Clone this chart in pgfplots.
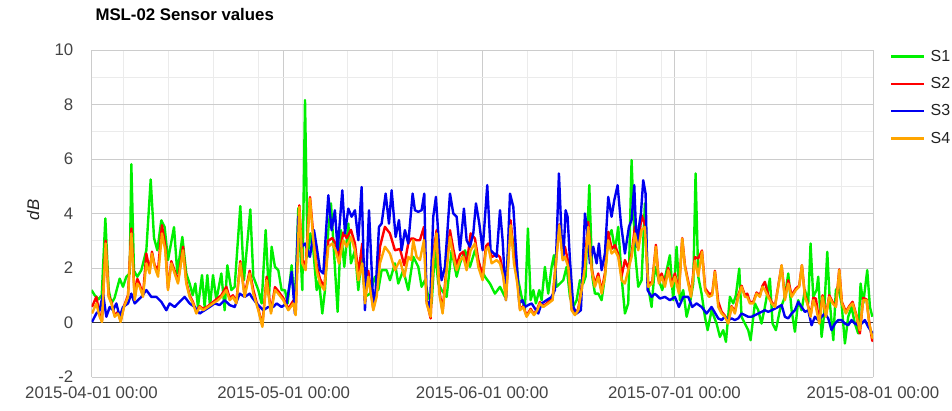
\documentclass[border=0pt]{standalone}
\usepackage{pgfplots}
\pgfplotsset{compat=1.18}
\usepackage{fontspec}
\setmainfont{Liberation Sans}
\definecolor{sone}{RGB}{0,240,0}
\definecolor{stwo}{RGB}{255,0,0}
\definecolor{sthree}{RGB}{0,0,240}
\definecolor{sfour}{RGB}{255,165,0}
\definecolor{tickc}{RGB}{68,68,68}
\definecolor{legc}{RGB}{34,34,34}
\definecolor{majg}{RGB}{204,204,204}
\definecolor{ming}{RGB}{235,235,235}
\begin{document}
\begin{tikzpicture}
\useasboundingbox (-91.5pt,-33pt) rectangle (860.5pt,377pt);
\begin{axis}[
 at={(0pt,0pt)}, anchor=south west,
 scale only axis, width=781.5pt, height=327pt,
 xmin=0, xmax=122, ymin=-2, ymax=10,
 axis line style={draw=none},
 tick style={draw=none},
 xtick={0,30,61,91,122},
 xticklabels={2015-04-01 00:00,2015-05-01 00:00,2015-06-01 00:00,2015-07-01 00:00,2015-08-01 00:00},
 minor xtick={5,12,19,26,33,40,47,54,68,75,82,89,96,103,110,117},
 ytick={-2,0,2,4,6,8,10},
 minor ytick={-1,1,3,5,7,9},
 grid=both,
 major grid style={draw=majg, line width=0.8pt},
 minor grid style={draw=ming, line width=0.8pt},
 extra y ticks={0}, extra y tick labels={},
 extra y tick style={grid=major, major grid style={draw=black!80, line width=1.2pt}},
 ticklabel style={font=\fontsize{16.8}{18}\selectfont, text=tickc},
 /pgf/number format/assume math mode=true,
 xticklabel style={anchor=north, inner sep=0pt, yshift=-10pt},
 yticklabel style={anchor=east, inner sep=0pt, xshift=-18pt},
 legend style={at={(1,1)}, anchor=north west, xshift=17pt, yshift=0pt, draw=none, fill=none,
   inner sep=0pt, row sep=14.6pt, column sep=5pt, font=\fontsize{16}{17}\selectfont, text=legc,
   nodes={inner sep=0pt}},
 legend cell align=left,
 legend image code/.code={\draw[#1] (0pt,0pt) -- (33pt,0pt);},
 every axis plot/.append style={line width=2.4pt, line join=round},
]
\addplot[sone] coordinates {(0.0,1.19) (0.5,1.0) (1.1,0.85) (1.6,1.0) (2.16,3.82) (2.68,1.2) (3.1,0.7) (3.6,0.9) (4.4,1.61) (4.92,1.31) (5.44,1.68) (5.96,1.8) (6.22,5.81) (6.63,1.9) (7.15,1.68) (7.78,1.92) (8.56,2.65) (9.24,5.25) (9.76,3.1) (10.28,2.65) (10.9,3.75) (11.42,3.5) (11.94,2.29) (12.88,3.5) (13.4,1.8) (14.18,3.14) (14.8,1.8) (15.32,1.43) (15.8,1.0) (16.21,1.43) (16.62,0.57) (17.25,1.74) (17.66,0.57) (18.08,1.74) (18.5,0.6) (18.97,1.74) (19.49,0.82) (20.27,1.8) (20.79,0.45) (21.2,2.1) (21.83,1.19) (22.35,1.31) (23.23,4.27) (23.8,1.55) (24.79,4.15) (25.26,1.68) (26.04,1.19) (26.56,0.7) (27.19,3.39) (27.71,0.94) (28.12,2.78) (28.64,2.04) (29.16,1.92) (29.68,1.19) (30.2,1.19) (30.62,0.7) (31.24,2.1) (31.76,0.57) (32.28,4.2) (32.91,1.19) (33.33,8.16) (33.74,2.41) (34.16,3.27) (34.63,2.65) (35.15,1.19) (35.51,1.55) (36.03,0.33) (36.45,1.19) (36.97,3.39) (37.38,4.37) (37.9,2.41) (38.42,0.39) (38.94,3.39) (39.46,2.04) (40.09,3.63) (40.5,2.17) (41.13,2.65) (41.65,1.19) (42.17,2.41) (42.69,0.94) (43.47,1.06) (44.25,1.68) (44.77,1.19) (45.29,1.92) (46.07,1.92) (46.59,1.55) (47.37,2.17) (47.89,1.43) (48.67,1.92) (49.45,1.19) (50.23,2.41) (51.02,2.04) (51.53,1.31) (52.05,1.55) (52.58,0.94) (53.1,0.7) (53.61,2.65) (54.14,1.43) (54.65,1.19) (55.44,0.94) (56.22,2.65) (57.0,1.68) (57.52,2.17) (58.3,2.65) (59.08,2.04) (59.86,2.65) (60.64,2.04) (61.42,1.68) (62.2,1.43) (62.98,1.06) (63.77,1.31) (64.55,0.94) (65.33,3.51) (66.1,2.65) (66.62,1.55) (67.15,0.94) (67.66,0.45) (68.13,3.45) (68.55,0.82) (68.97,1.19) (69.38,0.7) (69.9,1.19) (70.27,0.82) (70.78,2.04) (71.3,1.06) (71.83,2.04) (72.19,2.47) (72.6,1.31) (73.65,1.55) (74.17,2.04) (74.69,0.94) (75.21,0.57) (75.73,0.82) (76.25,1.55) (76.77,1.43) (77.13,1.68) (77.71,5.04) (78.18,1.68) (78.59,1.06) (79.11,1.06) (79.63,0.82) (80.15,1.68) (80.67,3.14) (81.19,3.39) (81.72,2.65) (82.23,3.51) (82.75,1.68) (83.27,0.33) (83.79,0.7) (84.31,5.96) (84.83,2.65) (85.35,1.31) (85.87,1.55) (86.39,4.37) (86.91,1.31) (87.43,0.57) (87.95,2.04) (88.57,1.55) (89.1,1.19) (89.67,1.8) (90.29,2.47) (90.81,0.82) (91.34,2.78) (91.86,0.82) (92.37,1.19) (92.9,0.21) (93.42,0.7) (93.94,1.43) (94.3,5.47) (94.72,1.68) (95.24,1.06) (95.76,0.21) (96.18,-0.28) (96.8,0.45) (97.58,-0.04) (98.1,-0.53) (98.62,-0.28) (99.04,-0.71) (99.66,0.94) (100.18,0.7) (100.6,1.0) (101.12,1.98) (101.48,0.21) (102.0,-0.04) (102.52,-0.28) (102.89,-0.65) (103.56,0.7) (104.08,0.45) (104.6,-0.04) (105.12,0.57) (105.9,1.61) (106.32,-0.04) (106.84,-0.28) (107.46,0.45) (108.25,0.94) (108.77,1.8) (109.29,0.45) (109.81,-0.34) (110.33,0.82) (110.85,0.45) (111.37,1.19) (111.89,0.7) (112.25,2.9) (112.67,0.94) (113.19,1.19) (113.45,1.68) (113.97,-0.53) (114.33,0.21) (114.86,2.59) (115.27,0.7) (115.8,-0.65) (116.2,1.19) (116.57,1.31) (117.09,0.7) (117.61,-0.77) (118.13,0.21) (118.65,0.57) (119.17,-0.04) (119.69,-0.4) (120.06,1.43) (120.47,0.7) (121.1,1.92) (121.52,0.57) (121.9,0.21)};
\addlegendentry{S1}
\addplot[stwo] coordinates {(0.08,0.57) (0.75,0.94) (1.27,0.3) (1.64,0.05) (2.21,3.0) (2.68,1.0) (3.1,0.75) (3.62,0.25) (4.14,0.4) (4.55,0.05) (5.07,0.6) (5.7,1.0) (6.22,3.45) (6.74,0.9) (7.15,1.6) (7.52,1.4) (8.04,1.0) (8.56,2.53) (9.08,1.9) (9.44,2.6) (9.86,2.1) (10.39,1.92) (11.0,3.57) (11.52,2.8) (11.94,1.25) (12.46,2.25) (12.98,1.9) (13.5,1.5) (14.28,2.78) (14.8,1.5) (15.32,1.0) (15.84,0.75) (16.36,0.4) (16.88,0.6) (17.4,0.5) (18.18,0.6) (18.97,0.75) (19.75,0.9) (20.27,1.0) (21.05,1.31) (21.57,0.9) (22.09,1.0) (22.61,0.75) (23.23,2.25) (23.9,1.0) (24.69,1.9) (25.26,1.2) (26.04,0.5) (26.67,-0.1) (27.34,1.68) (28.02,0.4) (28.64,1.3) (29.16,1.15) (29.94,0.9) (30.72,0.5) (31.5,0.8) (31.87,0.3) (32.44,4.3) (32.91,2.3) (33.43,2.1) (34.11,4.6) (34.63,3.2) (35.15,2.1) (35.67,1.6) (36.34,1.3) (36.97,3.0) (37.59,3.1) (38.11,2.9) (38.63,2.4) (39.31,3.3) (39.83,3.1) (40.5,3.4) (41.13,2.9) (41.65,1.8) (42.27,2.9) (42.69,0.8) (43.21,1.9) (43.99,0.5) (44.51,1.1) (45.03,2.78) (45.81,3.51) (46.59,3.27) (47.37,2.65) (48.15,2.7) (48.83,2.1) (49.45,2.9) (49.9,3.08) (50.23,3.08) (50.75,3.02) (51.27,3.02) (51.9,3.51) (52.31,0.8) (52.94,0.15) (53.35,2.5) (53.88,3.39) (54.29,1.2) (54.81,0.4) (55.44,2.1) (55.96,3.39) (56.48,2.7) (57.0,2.1) (57.52,2.5) (58.04,2.6) (58.56,2.1) (59.19,3.27) (59.86,3.08) (60.38,2.3) (61.06,1.7) (61.58,2.8) (61.94,2.9) (62.46,2.4) (63.24,2.5) (63.77,2.4) (64.28,1.8) (64.7,0.9) (65.43,3.75) (65.95,2.4) (66.47,1.6) (66.89,0.5) (67.41,0.6) (67.92,0.25) (68.55,0.5) (69.07,0.3) (69.59,0.5) (70.0,0.75) (70.53,0.6) (71.31,0.75) (71.98,0.9) (72.6,2.5) (73.02,3.6) (73.54,2.5) (73.91,2.78) (74.43,2.2) (74.95,0.5) (75.47,0.3) (75.99,0.5) (76.51,1.3) (77.03,2.29) (77.55,3.69) (78.07,2.0) (78.59,1.4) (79.11,1.8) (79.63,1.15) (80.15,1.8) (80.67,3.33) (81.19,2.7) (81.72,2.84) (82.23,2.5) (82.75,1.7) (83.27,2.29) (83.79,2.0) (84.31,2.5) (84.83,3.51) (85.35,2.8) (85.87,3.94) (86.39,3.6) (86.91,1.4) (87.54,1.5) (88.11,2.85) (88.58,1.5) (89.0,1.8) (89.52,1.4) (90.04,2.0) (90.56,1.4) (91.08,1.8) (91.7,1.15) (92.22,3.1) (92.64,2.1) (93.16,1.5) (93.58,1.0) (94.2,2.4) (94.72,2.35) (95.3,2.64) (95.8,1.25) (96.39,1.06) (96.9,1.06) (97.32,1.9) (97.84,0.76) (98.36,0.4) (98.88,0.25) (99.4,0.0) (99.92,0.6) (100.44,0.4) (100.96,1.0) (101.48,1.35) (102.0,1.0) (102.37,1.06) (102.78,0.75) (103.3,0.75) (103.82,1.1) (104.34,1.0) (104.76,1.35) (105.12,1.49) (105.65,1.0) (106.17,0.75) (106.69,0.6) (107.21,1.35) (107.73,2.1) (108.25,0.9) (108.77,1.55) (109.29,1.0) (109.96,1.25) (110.48,1.35) (110.9,2.1) (111.37,1.0) (111.73,0.75) (112.25,0.25) (112.67,0.9) (113.08,0.88) (113.61,0.0) (114.12,1.0) (114.64,0.25) (115.17,1.0) (115.69,0.75) (116.21,0.6) (116.73,1.95) (117.14,0.75) (117.77,0.4) (118.29,0.6) (118.81,0.76) (119.43,0.25) (119.95,-0.4) (120.47,0.9) (120.99,0.85) (121.41,0.0) (121.87,-0.65) (122,-0.7)};
\addlegendentry{S2}
\addplot[sthree] coordinates {(0.08,0.02) (0.75,0.33) (1.27,0.45) (1.8,1.06) (2.32,0.21) (2.84,0.57) (3.36,0.45) (3.88,0.7) (4.4,0.21) (4.92,0.57) (5.7,0.7) (6.22,1.06) (6.74,0.7) (7.26,0.82) (7.78,0.94) (8.56,1.19) (9.34,0.94) (10.12,0.94) (10.9,0.76) (11.68,0.45) (12.2,0.7) (12.98,0.57) (13.76,0.76) (14.54,0.94) (15.32,0.7) (16.1,0.57) (16.88,0.33) (17.66,0.45) (18.45,0.57) (19.23,0.7) (20.0,0.64) (20.79,0.82) (21.57,0.64) (22.35,0.57) (23.13,1.06) (23.91,0.94) (24.69,1.06) (25.0,0.94) (25.78,0.7) (26.82,0.45) (27.6,0.57) (28.38,0.57) (28.9,0.7) (29.68,0.57) (30.46,0.7) (31.24,1.86) (31.76,0.33) (32.28,3.88) (32.81,2.78) (33.33,2.9) (34.1,2.41) (34.73,3.39) (35.15,2.78) (35.67,1.92) (36.19,1.8) (36.97,4.67) (37.48,3.39) (38.0,4.12) (38.42,2.65) (39.15,4.85) (39.57,3.27) (40.09,4.18) (40.61,3.88) (41.13,4.12) (41.65,3.02) (42.17,4.97) (42.69,0.45) (43.32,4.12) (44.0,0.57) (44.36,1.19) (44.88,3.51) (45.29,3.63) (45.92,4.73) (46.44,3.63) (46.85,4.85) (47.48,3.14) (48.0,3.76) (48.41,2.65) (48.93,3.39) (49.45,2.9) (50.13,4.73) (50.49,4.12) (51.01,4.06) (51.53,4.12) (51.95,4.73) (52.31,0.82) (52.84,0.57) (53.35,3.88) (53.77,4.61) (54.29,2.65) (54.65,1.55) (55.18,2.04) (55.96,4.73) (56.48,4.0) (57.0,3.88) (57.52,2.65) (58.14,4.18) (58.56,3.02) (59.08,2.78) (59.6,3.27) (60.02,4.37) (60.54,3.63) (61.06,2.65) (61.78,5.04) (62.3,2.65) (62.83,2.53) (63.24,2.41) (63.77,4.12) (64.18,3.02) (64.7,0.82) (65.33,4.73) (65.85,4.24) (66.36,2.29) (66.78,0.7) (67.3,0.82) (67.66,0.57) (68.18,0.64) (68.71,0.7) (69.23,0.51) (69.75,0.33) (70.27,0.7) (71.05,0.82) (71.83,0.94) (72.35,1.19) (72.97,5.47) (73.39,3.14) (73.65,2.29) (74.01,4.12) (74.32,3.88) (74.69,2.29) (75.21,0.57) (75.73,0.33) (76.4,0.45) (77.03,4.0) (77.45,3.27) (77.81,2.17) (78.33,2.78) (78.85,2.17) (79.21,2.9) (79.63,1.92) (80.15,2.53) (80.67,4.61) (81.19,3.88) (81.61,4.49) (82.13,5.04) (82.65,3.63) (83.27,2.53) (83.9,3.51) (84.31,3.76) (84.73,5.04) (85.1,2.78) (85.46,3.51) (85.77,4.0) (86.13,5.22) (86.5,4.73) (86.81,1.19) (87.43,0.94) (87.95,1.06) (88.73,0.88) (89.52,0.94) (90.29,0.82) (91.08,0.94) (91.7,0.57) (92.38,0.94) (93.16,0.94) (93.78,0.57) (94.46,0.7) (95.24,0.57) (96.02,0.33) (96.8,0.57) (97.84,0.15) (98.36,0.09) (98.88,0.21) (99.4,0.09) (99.92,0.15) (100.44,0.09) (100.96,0.15) (101.48,0.33) (102.0,0.27) (102.52,0.21) (103.04,0.21) (103.56,0.27) (104.08,0.33) (104.6,0.39) (105.12,0.45) (105.65,0.39) (106.17,0.45) (106.69,0.51) (107.21,0.57) (107.73,0.64) (108.25,0.21) (108.77,0.15) (109.29,0.33) (109.81,0.45) (110.33,0.76) (110.85,0.57) (111.37,0.39) (111.89,0.45) (112.41,-0.1) (112.93,0.21) (113.45,0.09) (113.97,0.21) (114.49,0.33) (115.01,0.15) (115.53,-0.28) (116.05,-0.04) (116.57,0.09) (117.09,0.09) (117.61,-0.04) (118.13,-0.1) (118.65,0.09) (119.17,-0.04) (119.69,-0.1) (120.21,-0.04) (120.73,0.09) (121.25,-0.16) (121.77,-0.34) (122,-0.4)};
\addlegendentry{S3}
\addplot[sfour] coordinates {(0.08,0.33) (0.75,0.7) (1.27,0.21) (1.64,0.02) (2.21,2.9) (2.68,0.94) (3.1,0.7) (3.62,0.21) (4.14,0.33) (4.55,0.02) (5.07,0.57) (5.7,0.94) (6.22,3.27) (6.74,0.82) (7.15,1.43) (7.52,1.31) (8.04,0.94) (8.56,2.17) (9.08,1.8) (9.44,2.53) (9.86,2.04) (10.39,1.68) (11.0,3.27) (11.52,2.65) (11.94,1.19) (12.46,2.17) (12.98,1.8) (13.5,1.43) (14.28,2.65) (14.8,1.43) (15.32,0.94) (15.84,0.7) (16.36,0.33) (16.88,0.57) (17.4,0.45) (18.18,0.57) (18.97,0.7) (19.75,0.82) (20.27,0.94) (21.05,1.19) (21.57,0.82) (22.09,0.94) (22.61,0.7) (23.23,2.17) (23.9,0.94) (24.69,1.8) (25.26,1.06) (26.04,0.45) (26.67,-0.16) (27.34,1.55) (28.02,0.33) (28.64,1.19) (29.16,1.06) (29.94,0.82) (30.72,0.45) (31.5,0.7) (31.87,0.27) (32.44,4.24) (32.91,2.17) (33.43,1.92) (34.11,4.55) (34.63,3.02) (35.15,1.92) (35.67,1.43) (36.34,1.19) (36.97,2.78) (37.59,2.9) (38.11,2.65) (38.63,2.17) (39.31,3.02) (39.83,2.78) (40.5,3.14) (41.13,2.65) (41.65,1.55) (42.27,2.17) (42.69,0.7) (43.21,1.68) (43.99,0.45) (44.51,0.94) (45.03,2.17) (45.81,2.78) (46.59,2.53) (47.37,1.92) (48.15,2.29) (48.83,1.68) (49.45,2.41) (49.9,2.29) (50.23,3.02) (50.75,2.41) (51.27,2.29) (51.9,3.02) (52.31,0.7) (52.94,0.21) (53.35,2.29) (53.88,3.27) (54.29,1.06) (54.81,0.33) (55.44,1.92) (55.96,3.14) (56.48,2.41) (57.0,1.92) (57.52,2.29) (58.04,2.41) (58.56,1.92) (59.19,2.65) (59.86,2.9) (60.38,2.04) (61.06,1.55) (61.58,2.65) (61.94,2.78) (62.46,2.17) (63.24,2.29) (63.77,2.17) (64.28,1.68) (64.7,0.82) (65.43,3.57) (65.95,2.17) (66.47,1.43) (66.89,0.45) (67.41,0.57) (67.92,0.21) (68.55,0.45) (69.07,0.27) (69.59,0.45) (70.0,0.7) (70.53,0.57) (71.31,0.7) (71.98,0.82) (72.6,2.41) (73.02,3.57) (73.54,2.29) (73.91,2.41) (74.43,2.04) (74.95,0.45) (75.47,0.27) (75.99,0.45) (76.51,1.19) (77.03,2.04) (77.55,3.51) (78.07,1.92) (78.59,1.31) (79.11,1.68) (79.63,1.06) (80.15,1.68) (80.67,3.02) (81.19,2.53) (81.72,2.65) (82.23,2.41) (82.75,1.55) (83.27,1.43) (83.79,1.92) (84.31,2.41) (84.83,3.27) (85.35,2.65) (85.87,3.39) (86.39,3.51) (86.91,1.31) (87.54,1.43) (88.11,2.78) (88.58,1.43) (89.0,1.68) (89.52,1.31) (90.04,1.92) (90.56,1.31) (91.08,1.68) (91.7,1.06) (92.22,3.08) (92.64,2.04) (93.16,1.43) (93.58,0.94) (94.2,2.27) (94.72,1.7) (95.3,2.6) (95.8,1.17) (96.39,0.94) (96.9,1.0) (97.32,1.86) (97.84,0.57) (98.36,0.33) (98.88,0.21) (99.4,-0.04) (99.92,0.57) (100.44,0.33) (100.96,0.94) (101.48,1.31) (102.0,0.94) (102.37,0.94) (102.78,0.7) (103.3,0.7) (103.82,1.06) (104.34,0.94) (104.76,1.31) (105.12,1.19) (105.65,0.94) (106.17,0.7) (106.69,0.57) (107.21,1.31) (107.73,2.1) (108.25,0.82) (108.77,1.43) (109.29,0.94) (109.96,1.19) (110.48,1.31) (110.9,2.1) (111.37,0.94) (111.73,0.7) (112.25,0.21) (112.67,0.82) (113.08,0.57) (113.61,-0.04) (114.12,0.94) (114.64,0.21) (115.17,0.94) (115.69,0.7) (116.21,0.57) (116.73,1.92) (117.14,0.7) (117.77,0.33) (118.29,0.57) (118.81,0.7) (119.43,0.21) (119.95,-0.28) (120.47,0.82) (120.99,0.82) (121.41,-0.04) (121.87,-0.53) (122,-0.6)};
\addlegendentry{S4}
\end{axis}
\node[anchor=base west, font=\bfseries\fontsize{16.8}{18}\selectfont] at (0.5pt,356.3pt) {MSL-02 Sensor values};
\node[rotate=90, font=\itshape\fontsize{16.8}{18}\selectfont, text=legc] at (-58.5pt,167pt) {dB};
\end{tikzpicture}
\end{document}
